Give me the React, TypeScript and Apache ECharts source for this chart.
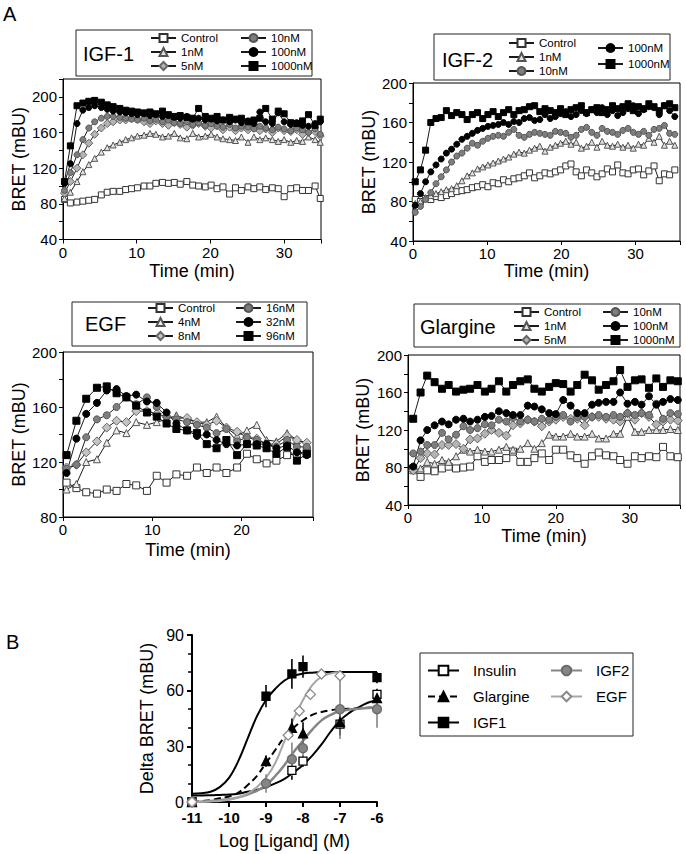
import { useEffect, useRef } from "react";
import * as echarts from "echarts";

const FONT = "'Liberation Sans', Arial, Helvetica, sans-serif";

// ---------- Panel A: IGF-1 ----------
const igf1Time = [0.2,1.0,1.9,2.7,3.5,4.3,5.2,6.0,6.8,7.7,8.5,9.3,10.1,11.0,11.8,12.6,13.5,14.3,15.1,15.9,16.8,17.6,18.4,19.3,20.1,20.9,21.7,22.6,23.4,24.2,25.1,25.9,26.7,27.5,28.4,29.2,30.0,30.9,31.7,32.5,33.3,34.2,34.9];
const igf1Control = [85,81,82,83,84,85,90,93,94,94,96,97,98,100,100,103,104,103,104,102,105,101,100,99,101,97,99,91,98,95,99,97,99,96,98,97,88,97,98,95,95,100,86];
const igf1_1nM = [86,93,105,116,124,131,138,143,146,149,152,154,156,157,159,158,155,156,159,154,153,159,155,156,158,155,153,152,151,155,149,155,152,154,152,150,152,149,151,150,155,152,149];
const igf1_5nM = [92,105,120,135,148,158,165,170,172,174,174,176,175,172,170,173,170,168,171,169,166,168,170,167,165,168,163,166,162,165,163,166,162,164,160,165,162,161,163,158,160,161,156];
const igf1_10nM = [95,115,135,152,165,172,176,178,178,177,176,175,174,176,173,175,172,174,171,170,172,169,171,168,170,167,166,169,165,167,166,164,167,165,163,166,164,162,165,163,160,164,158];
const igf1_100nM = [103,125,170,185,188,190,188,186,184,183,182,181,180,181,179,180,178,179,177,176,178,175,176,174,175,173,174,172,174,171,173,170,183,172,170,182,172,169,171,168,167,170,172];
const igf1_1000nM = [105,145,190,193,195,196,194,191,189,187,185,184,183,182,183,181,184,180,178,179,177,176,187,178,176,178,174,177,175,176,172,174,176,187,175,184,181,171,170,173,180,168,175];

// ---------- Panel A: IGF-2 ----------
const igf2Time = [0.3,1.0,1.7,2.4,3.1,3.8,4.5,5.2,5.9,6.6,7.3,8.0,8.7,9.4,10.1,10.8,11.5,12.2,12.9,13.6,14.3,15.0,15.7,16.4,17.1,17.8,18.5,19.2,19.9,20.6,21.3,22.0,22.7,23.4,24.1,24.8,25.5,26.2,26.9,27.6,28.3,29.0,29.7,30.4,31.1,31.8,32.5,33.2,33.9,34.6,35.3];
const igf2Control = [82,80,83,82,85,84,86,88,90,91,92,94,95,97,95,99,98,102,100,103,104,106,109,104,106,109,108,110,112,116,118,110,106,112,109,105,108,113,110,117,109,108,112,113,107,111,116,101,108,107,112];
const igf2_1nM = [78,80,84,86,88,90,92,93,96,101,106,109,113,115,117,119,121,123,125,128,130,129,132,134,136,131,135,137,139,141,138,140,134,136,140,135,141,137,136,138,135,137,134,138,137,144,140,146,137,141,137];
const igf2_10nM = [69,75,82,89,98,105,112,120,126,129,134,139,137,141,144,146,147,146,150,153,147,145,148,150,149,148,147,151,150,149,145,147,153,155,150,147,154,151,150,148,152,154,150,148,151,147,153,154,157,149,148];
const igf2_100nM = [76,88,100,110,117,123,129,133,138,143,146,149,152,154,156,157,158,160,158,161,160,164,165,162,163,168,164,166,169,171,166,168,172,169,173,170,175,168,172,167,170,174,177,169,173,176,175,168,177,172,166];
const igf2_1000nM = [100,112,132,160,164,165,172,167,170,168,163,168,170,164,168,171,166,170,173,168,172,173,176,177,171,174,172,170,174,168,173,175,177,170,173,175,170,173,177,174,176,179,172,176,174,179,176,172,177,179,175];

// ---------- Panel A: EGF ----------
const egfTime = [0.4,1.5,2.6,3.8,4.9,6.0,7.1,8.2,9.4,10.5,11.6,12.7,13.9,15.0,16.1,17.2,18.3,19.5,20.6,21.7,22.8,23.9,25.1,26.2,27.3];
const egfControl = [105,101,98,97,100,99,104,103,99,110,105,111,110,116,112,116,112,116,126,122,119,121,125,126,128];
const egf_4nM = [100,104,120,122,134,143,141,149,147,149,151,154,151,149,149,153,145,139,143,147,136,135,141,136,133];
const egf_8nM = [116,118,127,135,145,150,149,157,157,155,153,152,152,149,147,150,145,142,138,137,133,133,139,136,134];
const egf_16nM = [115,118,138,151,154,160,167,162,167,160,153,151,149,147,145,141,144,135,138,136,133,131,136,131,131];
const egf_32nM = [112,137,155,163,172,173,168,169,164,163,156,148,143,139,140,136,133,132,133,133,133,130,132,127,125];
const egf_96nM = [125,150,166,174,175,170,167,161,156,153,148,144,143,141,133,130,136,125,133,132,130,126,131,121,126];

// ---------- Panel A: Glargine ----------
const glaTime = [0.7,1.7,2.6,3.6,4.6,5.5,6.5,7.5,8.4,9.4,10.4,11.3,12.3,13.3,14.2,15.2,16.2,17.1,18.1,19.1,20.0,21.0,22.0,22.9,23.9,24.9,25.8,26.8,27.8,28.7,29.7,30.7,31.6,32.6,33.6,34.5,35.5,36.5];
const glaControl = [79,70,77,76,79,81,79,80,81,92,86,88,88,90,97,86,86,90,95,88,99,99,93,90,84,92,96,93,92,88,84,92,90,92,91,102,92,91];
const gla_1nM = [77,79,86,84,88,86,92,99,97,99,97,97,99,102,99,100,106,100,106,115,113,113,116,113,113,116,111,111,116,116,134,118,118,120,120,120,121,120];
const gla_5nM = [77,90,95,94,104,104,105,100,110,111,116,120,117,114,125,127,131,129,124,129,131,134,132,132,125,134,134,132,131,129,138,131,138,134,126,129,131,130];
const gla_10nM = [95,97,104,104,117,110,115,124,120,122,126,125,131,129,133,129,131,129,132,131,134,136,129,134,134,134,136,134,136,134,138,136,138,136,148,132,138,137];
const gla_100nM = [81,109,120,125,129,126,131,132,129,131,134,135,140,138,136,136,146,145,142,138,137,152,146,138,138,147,149,150,150,160,148,150,147,156,147,150,153,152];
const gla_1000nM = [132,160,178,171,164,168,161,163,164,168,161,164,172,161,168,172,174,164,161,166,170,169,161,168,179,173,163,168,172,184,166,173,174,165,175,166,173,172];

// ---------- Panel B: dose response ----------
const insulinX = [-11, -8.3, -8, -7, -6];
const insulinY = [0, 17, 22, 42, 58];
const insulinErr = [0, 5, 3, 6, 3];
const glargineX = [-11, -9, -8.3, -8, -7, -6];
const glargineY = [0, 22, 40, 37, 43, 56];
const glargineErr = [0, 3, 5, 6, 7, 4];
const igf1X = [-11, -9, -8.3, -8, -6];
const igf1Y = [0, 57, 69, 73, 67];
const igf1Err = [0, 6, 8, 6, 3];
const igf2X = [-11, -9, -8.3, -8, -7, -6];
const igf2Y = [0, 10, 23, 29, 50, 50];
const igf2Err = [0, 5, 9, 6, 16, 10];
const egfX = [-11, -8.4, -8.1, -7.8, -7.5, -7];
const egfY = [0, 36, 49, 58, 69, 68];
const egfErr = [0, 2, 2, 2, 2, 3];

const fitX = [-11,-10.75,-10.5,-10.25,-10,-9.75,-9.5,-9.25,-9,-8.75,-8.5,-8.25,-8,-7.75,-7.5,-7.25,-7,-6.75,-6.5,-6.25,-6];
const igf1Fit = [4.5,4.7,5.5,8,13,22,34,46,55,61,65.5,68,69.2,69.7,70,70,70,70,70,70,70];
const insulinFit = [3.5,3.5,3.6,3.8,4,4.5,5.5,6.5,8,10,12.5,16,20,25,31,38,44,48,51,53.5,55];
const glargineFit = [0,0.5,1,2,3,5,9,14,21,28,35,40,44,47,48.5,49.5,50,50.3,50.5,50.8,51];
const igf2Fit = [0,0.2,0.5,1,1.5,2.5,4,6,9,14,20,27,33,39,44,47,49,49.8,50.3,50.6,51];
const egfFit = [0,0.1,0.3,0.6,1.2,2.5,4.5,8,13,21,33,45,55,63,67.5,69.3,70];

type Sty = { symbol: string; fill: string; border: string };
const MARK: Record<string, Sty> = {
  Control: { symbol: "rect", fill: "#ffffff", border: "#333333" },
  "1nM": { symbol: "triangle", fill: "#e2e2e2", border: "#555555" },
  "4nM": { symbol: "triangle", fill: "#eeeeee", border: "#555555" },
  "5nM": { symbol: "diamond", fill: "#b4b4b4", border: "#666666" },
  "8nM": { symbol: "diamond", fill: "#c4c4c4", border: "#666666" },
  "10nM": { symbol: "circle", fill: "#7e7e7e", border: "#555555" },
  "16nM": { symbol: "circle", fill: "#7e7e7e", border: "#555555" },
  "32nM": { symbol: "circle", fill: "#000000", border: "#000000" },
  "100nM": { symbol: "circle", fill: "#000000", border: "#000000" },
  "96nM": { symbol: "rect", fill: "#000000", border: "#000000" },
  "1000nM": { symbol: "rect", fill: "#000000", border: "#000000" },
};

function timeSeries(g: number, name: string, times: number[], vals: number[], size: number) {
  const m = MARK[name];
  return {
    type: "line",
    name,
    xAxisIndex: g,
    yAxisIndex: g,
    data: times.map((t, i) => [t, vals[i]]),
    symbol: m.symbol,
    symbolSize: m.symbol === "diamond" ? size + 2 : size,
    showAllSymbol: true,
    itemStyle: { color: m.fill, borderColor: m.border, borderWidth: 1 },
    lineStyle: { color: "#1a1a1a", width: 1 },
    emphasis: { disabled: true },
    silent: true,
  };
}

function timeX(g: number, max: number, gap: number) {
  return {
    type: "value",
    gridIndex: g,
    min: 0,
    max,
    interval: 10,
    axisLine: { show: true, lineStyle: { color: "#000", width: 1 } },
    axisTick: { show: true, length: 4, inside: false, lineStyle: { color: "#000" } },
    axisLabel: {
      fontSize: 15,
      color: "#000",
      margin: 5,
      fontFamily: FONT,
      formatter: (v: number) => (v % 10 === 0 ? String(v) : ""),
    },
    splitLine: { show: false },
    name: "Time (min)",
    nameLocation: "middle",
    nameGap: gap,
    nameTextStyle: { fontSize: 18, color: "#000", fontFamily: FONT },
  };
}

function bretY(g: number, min: number, max: number, gap: number) {
  return {
    type: "value",
    gridIndex: g,
    min,
    max,
    interval: 20,
    axisLine: { show: true, lineStyle: { color: "#000", width: 1 } },
    axisTick: { show: true, length: 4, lineStyle: { color: "#000" } },
    axisLabel: {
      fontSize: 15,
      color: "#000",
      margin: 6,
      fontFamily: FONT,
      formatter: (v: number) => (v % 40 === 0 ? String(v) : ""),
    },
    splitLine: { show: false },
    name: "BRET (mBU)",
    nameLocation: "middle",
    nameGap: gap,
    nameTextStyle: { fontSize: 18, color: "#000", fontFamily: FONT },
  };
}

function legendCol(names: string[], left: number, top: number, gap: number) {
  return {
    data: names,
    orient: "vertical",
    left,
    top,
    padding: 0,
    itemGap: gap,
    itemWidth: 25,
    itemHeight: 10,
    selectedMode: false,
    textStyle: { fontSize: 11.5, color: "#000", fontFamily: FONT },
  };
}

function bLegendCol(names: string[], left: number, top: number) {
  return {
    data: names,
    orient: "vertical",
    left,
    top,
    padding: 0,
    itemGap: 11,
    itemWidth: 31,
    itemHeight: 12,
    selectedMode: false,
    textStyle: { fontSize: 15, color: "#000", fontFamily: FONT, padding: [0, 0, 0, 9] },
  };
}

function fitSeries(name: string, xs: number[], ys: number[], color: string, width: number, dashed: boolean, sty: Sty) {
  return {
    type: "line",
    name,
    xAxisIndex: 4,
    yAxisIndex: 4,
    data: xs.slice(0, ys.length).map((x, i) => [x, ys[i]]),
    smooth: 0.4,
    symbol: sty.symbol,
    showSymbol: false,
    itemStyle: { color: sty.fill, borderColor: sty.border, borderWidth: 1.5 },
    lineStyle: { color, width, type: dashed ? [7, 4] : "solid" },
    z: 2,
    silent: true,
  };
}

function pointSeries(name: string, xs: number[], ys: number[], sty: Sty, size: number) {
  return {
    type: "scatter",
    name,
    xAxisIndex: 4,
    yAxisIndex: 4,
    data: xs.map((x, i) => [x, ys[i]]),
    symbol: sty.symbol,
    symbolSize: size,
    clip: false,
    itemStyle: { color: sty.fill, borderColor: sty.border, borderWidth: 1.3, opacity: 1 },
    z: 4,
    silent: true,
  };
}

function errSeries(xs: number[], ys: number[], errs: number[], color: string) {
  return {
    type: "custom",
    xAxisIndex: 4,
    yAxisIndex: 4,
    data: xs.map((x, i) => [x, ys[i] - errs[i], ys[i] + errs[i]]),
    encode: { x: 0, y: [1, 2] },
    clip: false,
    silent: true,
    z: 3,
    renderItem: (_p: any, api: any) => {
      const a = api.coord([api.value(0), api.value(1)]);
      const b = api.coord([api.value(0), api.value(2)]);
      return {
        type: "line",
        shape: { x1: a[0], y1: a[1], x2: b[0], y2: b[1] },
        style: { stroke: color, lineWidth: 1.6 },
      };
    },
  };
}

const S_INS: Sty = { symbol: "rect", fill: "#ffffff", border: "#000000" };
const S_GLA: Sty = { symbol: "triangle", fill: "#000000", border: "#000000" };
const S_IGF1: Sty = { symbol: "rect", fill: "#000000", border: "#000000" };
const S_IGF2: Sty = { symbol: "circle", fill: "#858585", border: "#6a6a6a" };
const S_EGF: Sty = { symbol: "diamond", fill: "#ffffff", border: "#8a8a8a" };

function text(t: string, x: number, y: number, size: number) {
  return {
    type: "text",
    x,
    y,
    silent: true,
    style: { text: t, fontSize: size, fontFamily: FONT, fill: "#000", verticalAlign: "middle", align: "left" },
  };
}
function box(x: number, y: number, w: number, h: number) {
  return {
    type: "rect",
    silent: true,
    shape: { x, y, width: w, height: h },
    style: { fill: "none", stroke: "#222", lineWidth: 1 },
  };
}

export default function App() {
  const ref = useRef<HTMLDivElement>(null);
  useEffect(() => {
    if (!ref.current) return;
    const chart = echarts.init(ref.current, undefined, { renderer: "svg" });
    const gridBase = { show: true, borderColor: "#000", borderWidth: 1, backgroundColor: "transparent", containLabel: false };
    const option: any = {
      animation: false,
      textStyle: { fontFamily: FONT, color: "#000" },
      grid: [
        { ...gridBase, left: 63, top: 79, width: 258, height: 160.5 },
        { ...gridBase, left: 413, top: 83, width: 267, height: 158 },
        { ...gridBase, left: 63, top: 352, width: 250, height: 165 },
        { ...gridBase, left: 408, top: 355, width: 272, height: 150 },
        { show: false, left: 192, top: 635, width: 185, height: 167 },
      ],
      xAxis: [
        timeX(0, 35, 22),
        timeX(1, 36, 21),
        timeX(2, 28, 24),
        timeX(3, 36.8, 22),
        {
          type: "value",
          gridIndex: 4,
          min: -11,
          max: -6,
          interval: 1,
          axisLine: { show: true, onZero: false, lineStyle: { color: "#000", width: 2 } },
          axisTick: { show: true, length: 5, lineStyle: { color: "#000", width: 2 } },
          axisLabel: { fontSize: 15, fontWeight: "bold", color: "#000", margin: 8, fontFamily: FONT },
          splitLine: { show: false },
          name: "Log [Ligand] (M)",
          nameLocation: "middle",
          nameGap: 30,
          nameTextStyle: { fontSize: 18, color: "#000", fontFamily: FONT },
        },
      ],
      yAxis: [
        bretY(0, 40, 220, 34),
        bretY(1, 40, 200, 35),
        bretY(2, 80, 200, 35),
        bretY(3, 40, 200, 36),
        {
          type: "value",
          gridIndex: 4,
          min: 0,
          max: 90,
          interval: 30,
          axisLine: { show: true, onZero: false, lineStyle: { color: "#000", width: 2 } },
          axisTick: { show: true, length: 5, lineStyle: { color: "#000", width: 2 } },
          minorTick: { show: true, splitNumber: 3, length: 4, lineStyle: { color: "#000", width: 1.5 } },
          axisLabel: { fontSize: 16, color: "#000", margin: 8, fontFamily: FONT },
          splitLine: { show: false },
          minorSplitLine: { show: false },
          name: "Delta BRET (mBU)",
          nameLocation: "middle",
          nameGap: 36,
          nameTextStyle: { fontSize: 18, color: "#000", fontFamily: FONT },
        },
      ],
      legend: [
        legendCol(["Control", "1nM", "5nM"], 150, 32, 2),
        legendCol(["10nM", "100nM", "1000nM"], 240, 32, 2),
        legendCol(["Control", "1nM", "10nM"], 508, 37, 2),
        legendCol(["100nM", "1000nM"], 597, 42, 4),
        legendCol(["Control", "4nM", "8nM"], 147, 302, 2),
        legendCol(["16nM", "32nM", "96nM"], 235, 302, 2),
        legendCol(["Control", "1nM", "5nM"], 513, 306, 2),
        legendCol(["10nM", "100nM", "1000nM"], 602, 306, 2),
        bLegendCol(["Insulin", "Glargine", "IGF1"], 427, 663),
        bLegendCol(["IGF2", "EGF"], 550, 663),
      ],
      graphic: [
        text("A", 3, 14, 20),
        text("B", 6, 642, 20),
        box(76, 30, 236, 46),
        text("IGF-1", 83, 54, 20),
        box(434, 34, 236, 46),
        text("IGF-2", 442, 60, 20),
        box(72, 302, 235, 44),
        text("EGF", 85, 324, 20),
        box(414, 304, 266, 43),
        text("Glargine", 420, 327, 20),
        box(420, 653, 213, 83),
      ],
      series: [
        timeSeries(0, "Control", igf1Time, igf1Control, 6),
        timeSeries(0, "1nM", igf1Time, igf1_1nM, 6),
        timeSeries(0, "5nM", igf1Time, igf1_5nM, 6),
        timeSeries(0, "10nM", igf1Time, igf1_10nM, 6),
        timeSeries(0, "100nM", igf1Time, igf1_100nM, 6),
        timeSeries(0, "1000nM", igf1Time, igf1_1000nM, 6),

        timeSeries(1, "Control", igf2Time, igf2Control, 6),
        timeSeries(1, "1nM", igf2Time, igf2_1nM, 6),
        timeSeries(1, "10nM", igf2Time, igf2_10nM, 6),
        timeSeries(1, "100nM", igf2Time, igf2_100nM, 6),
        timeSeries(1, "1000nM", igf2Time, igf2_1000nM, 6),

        timeSeries(2, "Control", egfTime, egfControl, 7),
        timeSeries(2, "4nM", egfTime, egf_4nM, 7),
        timeSeries(2, "8nM", egfTime, egf_8nM, 7),
        timeSeries(2, "16nM", egfTime, egf_16nM, 7),
        timeSeries(2, "32nM", egfTime, egf_32nM, 7),
        timeSeries(2, "96nM", egfTime, egf_96nM, 7),

        timeSeries(3, "Control", glaTime, glaControl, 7),
        timeSeries(3, "1nM", glaTime, gla_1nM, 7),
        timeSeries(3, "5nM", glaTime, gla_5nM, 7),
        timeSeries(3, "10nM", glaTime, gla_10nM, 7),
        timeSeries(3, "100nM", glaTime, gla_100nM, 7),
        timeSeries(3, "1000nM", glaTime, gla_1000nM, 7),

        fitSeries("Insulin", fitX, insulinFit, "#000000", 2, false, S_INS),
        fitSeries("Glargine", fitX, glargineFit, "#000000", 2, true, S_GLA),
        fitSeries("IGF1", fitX, igf1Fit, "#000000", 2, false, S_IGF1),
        fitSeries("IGF2", fitX, igf2Fit, "#858585", 2.5, false, S_IGF2),
        fitSeries("EGF", fitX, egfFit, "#a6a6a6", 2, false, S_EGF),

        errSeries(insulinX, insulinY, insulinErr, "#000"),
        errSeries(glargineX, glargineY, glargineErr, "#000"),
        errSeries(igf1X, igf1Y, igf1Err, "#000"),
        errSeries(igf2X, igf2Y, igf2Err, "#858585"),
        errSeries(egfX, egfY, egfErr, "#9a9a9a"),

        pointSeries("Insulin points", insulinX, insulinY, S_INS, 8),
        pointSeries("Glargine points", glargineX, glargineY, S_GLA, 9),
        pointSeries("IGF1 points", igf1X, igf1Y, S_IGF1, 8),
        pointSeries("IGF2 points", igf2X, igf2Y, S_IGF2, 9),
        pointSeries("EGF points", egfX, egfY, S_EGF, 10),
      ],
    };
    chart.setOption(option);
    return () => chart.dispose();
  }, []);
  return (
    <div
      ref={ref}
      style={{ position: "absolute", left: 0, top: 0, width: 686, height: 854, background: "#fff" }}
    />
  );
}
